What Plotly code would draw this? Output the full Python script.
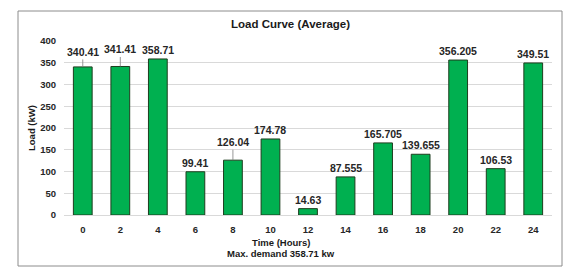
import plotly.graph_objects as go

hours = ["0", "2", "4", "6", "8", "10", "12", "14", "16", "18", "20", "22", "24"]
load_kw = [340.41, 341.41, 358.71, 99.41, 126.04, 174.78, 14.63, 87.555, 165.705, 139.655, 356.205, 106.53, 349.51]
labels = ["340.41", "341.41", "358.71", "99.41", "126.04", "174.78", "14.63", "87.555", "165.705", "139.655", "356.205", "106.53", "349.51"]
# labels that Excel moved up with a leader line: offset in pixels
leader = {"0": -15, "2": -17, "8": -18}

W, H = 575, 276
L, R, T, B = 64, 552, 41, 215
pw, ph = R - L, B - T

def px(x):
    return (x - L) / pw

def py(y):
    return (B - y) / ph

FONT = "Liberation Sans, Arial, sans-serif"

fig = go.Figure()
fig.add_trace(go.Bar(
    x=hours, y=load_kw,
    marker=dict(color="#00B050", line=dict(color="#1e3d1e", width=1)),
    width=0.5,
    hoverinfo="x+y",
))

ann = []
for i, (h, v, t) in enumerate(zip(hours, load_kw, labels)):
    if h in leader:
        ann.append(dict(x=i, y=v, xref="x", yref="y", text="<b>%s</b>" % t,
                        showarrow=True, arrowhead=0, arrowwidth=0.8, arrowcolor="#7f7f7f",
                        ax=0, ay=leader[h], standoff=0,
                        font=dict(family=FONT, size=10.5, color="#262626")))
    else:
        ann.append(dict(x=i, y=v, xref="x", yref="y", text="<b>%s</b>" % t,
                        showarrow=False, xanchor="center", yanchor="bottom", yshift=1,
                        font=dict(family=FONT, size=10.5, color="#262626")))

def pann(x, y, text, size, angle=0):
    return dict(x=px(x), y=py(y), xref="paper", yref="paper", showarrow=False,
                xanchor="center", yanchor="middle", textangle=angle,
                text="<b>%s</b>" % text, font=dict(family=FONT, size=size, color="#1a1a1a"))

ann.append(pann(290, 24, "Load Curve (Average)", 11.5))
ann.append(pann(281, 242, "Time (Hours)", 9.5))
ann.append(pann(281, 253, "Max. demand 358.71 kw", 9.5))
ann.append(pann(31, 128, "Load (kW)", 9.5, -90))

fig.update_layout(
    width=W, height=H,
    margin=dict(l=L, r=W - R, t=T, b=H - B, pad=0),
    paper_bgcolor="white", plot_bgcolor="white",
    showlegend=False,
    annotations=ann,
    shapes=[dict(type="rect", xref="paper", yref="paper",
                 x0=px(18), x1=px(562), y0=py(266), y1=py(11),
                 line=dict(color="#8c8c8c", width=1), fillcolor="rgba(0,0,0,0)", layer="below")],
    xaxis=dict(type="category", range=[-0.5, len(hours) - 0.5], showgrid=False, showline=True,
               linecolor="#d9d9d9", linewidth=1, ticks="",
               tickfont=dict(family=FONT, size=9.5, color="#262626", weight="bold"),
               ticklabelstandoff=6),
    yaxis=dict(range=[0, 400], dtick=50, showgrid=True, gridcolor="#d9d9d9", gridwidth=1,
               zeroline=False, showline=False, ticks="",
               tickfont=dict(family=FONT, size=9.5, color="#262626", weight="bold"),
               ticklabelstandoff=7),
)

fig.write_html("out.html", config={"displayModeBar": False},
               post_script="document.body.style.margin='0';")
